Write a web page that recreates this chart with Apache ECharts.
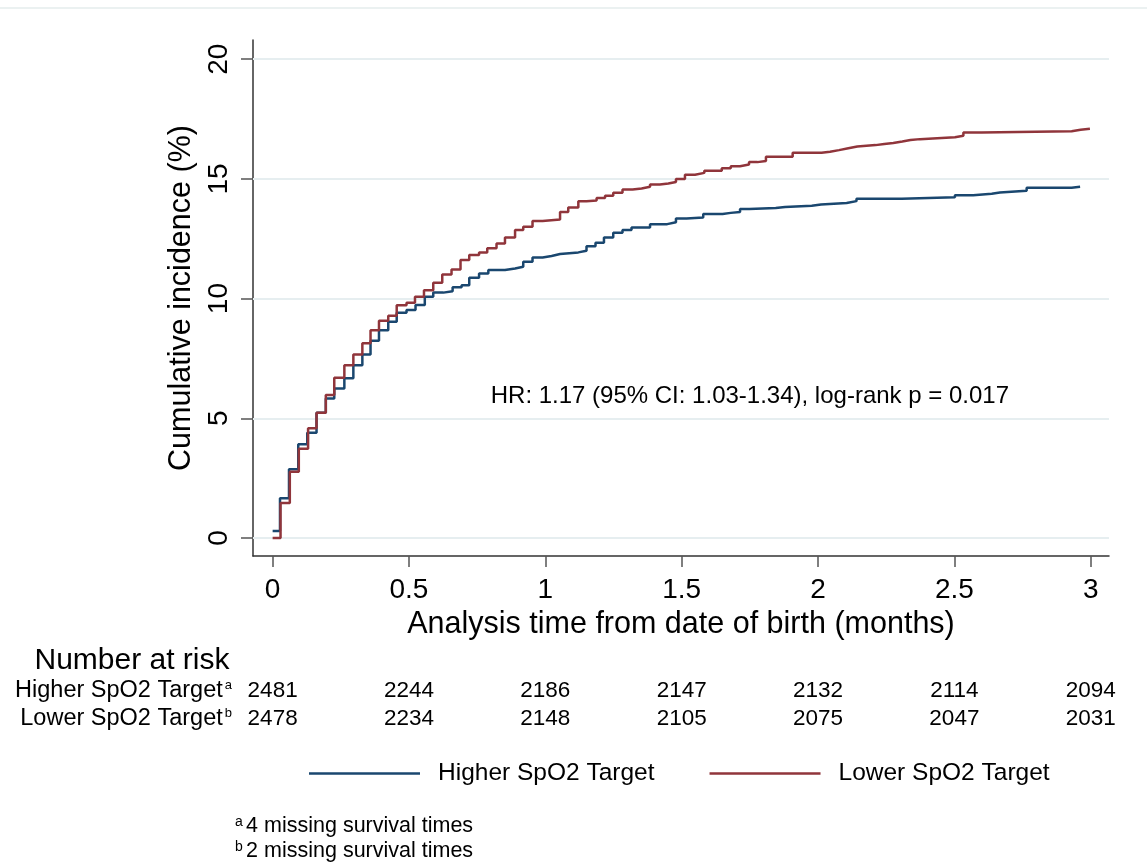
<!DOCTYPE html>
<html>
<head>
<meta charset="utf-8">
<script src="https://cdn.jsdelivr.net/npm/echarts@6/dist/echarts.min.js"></script>
<style>
html,body{margin:0;padding:0;background:#fff;}
#chart{width:1147px;height:865px;}
</style>
</head>
<body>
<div id="chart"></div>
<script>
// ---- data ----
const xTicks = [0, 0.5, 1, 1.5, 2, 2.5, 3];
const yTicks = [0, 5, 10, 15, 20];
const seriesNames = ['Higher SpO2 Target', 'Lower SpO2 Target'];
const riskHigher = [2481, 2244, 2186, 2147, 2132, 2114, 2094];
const riskLower = [2478, 2234, 2148, 2105, 2075, 2047, 2031];
const footnotes = ['4 missing survival times', '2 missing survival times'];
const hrText = 'HR: 1.17 (95% CI: 1.03-1.34), log-rank p = 0.017';

const higherT = [0, 0.027, 0.06, 0.094, 0.127, 0.161, 0.195, 0.226, 0.263, 0.296, 0.329, 0.359, 0.39, 0.424, 0.455, 0.491, 0.524, 0.558, 0.589, 0.626, 0.66, 0.693, 0.721, 0.757, 0.791, 0.852, 0.889, 0.919, 0.953, 0.99, 1.023, 1.054, 1.121, 1.151, 1.184, 1.215, 1.249, 1.283, 1.316, 1.384, 1.447, 1.479, 1.518, 1.579, 1.65, 1.68, 1.714, 1.748, 1.845, 1.879, 1.977, 2.011, 2.105, 2.141, 2.307, 2.502, 2.569, 2.637, 2.667, 2.765, 2.93, 2.961];
const higherV = [0.29, 1.66, 2.87, 3.92, 4.4, 5.23, 5.83, 6.25, 6.67, 7.22, 7.67, 8.24, 8.68, 9.03, 9.41, 9.52, 9.73, 10.08, 10.25, 10.31, 10.47, 10.56, 10.87, 11.05, 11.19, 11.26, 11.33, 11.54, 11.72, 11.78, 11.86, 11.93, 12.0, 12.19, 12.33, 12.55, 12.75, 12.86, 12.97, 13.11, 13.19, 13.35, 13.39, 13.53, 13.58, 13.62, 13.74, 13.78, 13.83, 13.88, 13.93, 13.99, 14.07, 14.17, 14.23, 14.32, 14.38, 14.43, 14.5, 14.63, 14.67, 14.67];

const lowerT = [0, 0.029, 0.063, 0.096, 0.13, 0.161, 0.195, 0.226, 0.263, 0.296, 0.329, 0.359, 0.39, 0.424, 0.455, 0.491, 0.522, 0.555, 0.589, 0.622, 0.656, 0.689, 0.721, 0.757, 0.787, 0.821, 0.852, 0.889, 0.919, 0.953, 0.99, 1.054, 1.084, 1.121, 1.151, 1.188, 1.219, 1.249, 1.283, 1.32, 1.353, 1.384, 1.42, 1.451, 1.479, 1.512, 1.549, 1.583, 1.647, 1.68, 1.714, 1.747, 1.778, 1.809, 1.907, 2.013, 2.044, 2.077, 2.111, 2.144, 2.211, 2.243, 2.276, 2.309, 2.339, 2.374, 2.437, 2.502, 2.533, 2.6, 2.93, 2.963, 2.997];
const lowerV = [0, 1.46, 2.77, 3.73, 4.59, 5.23, 5.97, 6.69, 7.22, 7.67, 8.13, 8.68, 9.07, 9.28, 9.72, 9.83, 10.08, 10.35, 10.66, 11.01, 11.22, 11.61, 11.82, 11.93, 12.1, 12.3, 12.55, 12.86, 13.0, 13.24, 13.3, 13.62, 13.8, 14.07, 14.1, 14.2, 14.3, 14.42, 14.56, 14.6, 14.67, 14.77, 14.81, 14.87, 15.0, 15.17, 15.25, 15.34, 15.44, 15.53, 15.6, 15.7, 15.75, 15.92, 16.09, 16.13, 16.2, 16.28, 16.35, 16.41, 16.46, 16.5, 16.56, 16.62, 16.66, 16.7, 16.74, 16.8, 16.94, 16.99, 17.05, 17.09, 17.09];

// ---- chart ----
const FONT = '"Liberation Sans", Arial, sans-serif';
const BLUE = '#1a476f';
const RED = '#90353b';
const zip = (a, b) => a.map((v, i) => [v, b[i]]);

const chart = echarts.init(document.getElementById('chart'), null, {renderer: 'canvas'});

const option = {
  backgroundColor: '#ffffff',
  animation: false,
  textStyle: {fontFamily: FONT},
  grid: {left: 253, right: 38, top: 40, bottom: 309, containLabel: false},
  xAxis: {
    type: 'value', min: -0.072, max: 3.067,
    name: 'Analysis time from date of birth (months)',
    nameLocation: 'middle', nameGap: 46,
    nameTextStyle: {fontSize: 30.5, color: '#000', fontFamily: FONT},
    axisLine: {show: true, onZero: false, lineStyle: {color: '#333', width: 1.5}},
    axisTick: {show: true, length: 11, lineStyle: {color: '#555', width: 1.5}, customValues: xTicks},
    axisLabel: {show: true, fontSize: 28, color: '#000', margin: 20, customValues: xTicks,
      formatter: v => String(v)},
    splitLine: {show: false}
  },
  yAxis: {
    type: 'value', min: -0.75, max: 20.8,
    name: 'Cumulative incidence (%)',
    nameLocation: 'middle', nameGap: 55,
    nameTextStyle: {fontSize: 30.5, color: '#000', fontFamily: FONT},
    axisLine: {show: true, onZero: false, lineStyle: {color: '#333', width: 1.5}},
    axisTick: {show: true, length: 12, lineStyle: {color: '#555', width: 1.5}, customValues: yTicks},
    axisLabel: {show: true, fontSize: 28, color: '#000', margin: 20, rotate: 90, customValues: yTicks,
      formatter: v => String(v)},
    splitLine: {show: false}
  },
  legend: {
    data: seriesNames,
    left: 309, top: 761, padding: 0,
    icon: 'rect',
    itemWidth: 111, itemHeight: 2.5, itemGap: 55,
    textStyle: {fontSize: 24.5, color: '#000', fontFamily: FONT, padding: [0, 0, 0, 13]},
    selectedMode: false
  },
  series: [
    {
      name: seriesNames[0], type: 'line', step: 'end', showSymbol: false, symbol: 'none',
      data: zip(higherT, higherV),
      lineStyle: {color: BLUE, width: 2.5}, itemStyle: {color: BLUE},
      z: 3,
      markLine: {
        silent: true, symbol: ['none', 'none'], label: {show: false},
        lineStyle: {color: '#e6eef0', width: 2, type: 'solid'},
        data: yTicks.map(v => ({yAxis: v})),
        z: 1
      }
    },
    {
      name: seriesNames[1], type: 'line', step: 'end', showSymbol: false, symbol: 'none',
      data: zip(lowerT, lowerV),
      lineStyle: {color: RED, width: 2.5}, itemStyle: {color: RED},
      z: 4
    }
  ]
};
chart.setOption(option);

// ---- annotations placed via the axis scale ----
const px = t => chart.convertToPixel({xAxisIndex: 0}, t);
const py = v => chart.convertToPixel({yAxisIndex: 0}, v);

const g = [];
// top border line of graph region
g.push({type: 'line', shape: {x1: 0, y1: 8, x2: 1147, y2: 8}, style: {stroke: '#e4eded', lineWidth: 1.5}, silent: true});
// HR text
g.push({type: 'text', x: px(1.75), y: py(5.9), style: {text: hrText, fontSize: 24, fontFamily: FONT, fill: '#000', textAlign: 'center', textVerticalAlign: 'middle'}});
// Number at risk
g.push({type: 'text', x: 132, y: 661, style: {text: 'Number at risk', fontSize: 30, fontFamily: FONT, fill: '#000', textAlign: 'center', textVerticalAlign: 'middle'}});
const rowY = [691, 719];
const rowLabels = [seriesNames[0], seriesNames[1]];
const sups = ['a', 'b'];
const risks = [riskHigher, riskLower];
rowLabels.forEach((lab, r) => {
  g.push({type: 'text', x: 232, y: rowY[r], style: {
    text: '{n|' + lab + '}{s|' + sups[r] + '}', textAlign: 'right', textVerticalAlign: 'middle',
    rich: {
      n: {fontSize: 23.5, fontFamily: FONT, fill: '#000', color: '#000'},
      s: {fontSize: 13, fontFamily: FONT, color: '#000', verticalAlign: 'top', padding: [0, 0, 10, 2]}
    }
  }});
  risks[r].forEach((n, i) => {
    g.push({type: 'text', x: px(xTicks[i]), y: rowY[r], style: {text: String(n), fontSize: 22.5, fontFamily: FONT, fill: '#000', textAlign: 'center', textVerticalAlign: 'middle'}});
  });
});
// footnotes
const fnY = [826, 851];
footnotes.forEach((f, i) => {
  g.push({type: 'text', x: 235, y: fnY[i], style: {
    text: '{s|' + sups[i] + '} {n|' + f + '}', textAlign: 'left', textVerticalAlign: 'middle',
    rich: {
      n: {fontSize: 21.5, fontFamily: FONT, color: '#000'},
      s: {fontSize: 14, fontFamily: FONT, color: '#000', padding: [0, 0, 8, 0]}
    }
  }});
});
chart.setOption({graphic: {elements: g}});
</script>
</body>
</html>
